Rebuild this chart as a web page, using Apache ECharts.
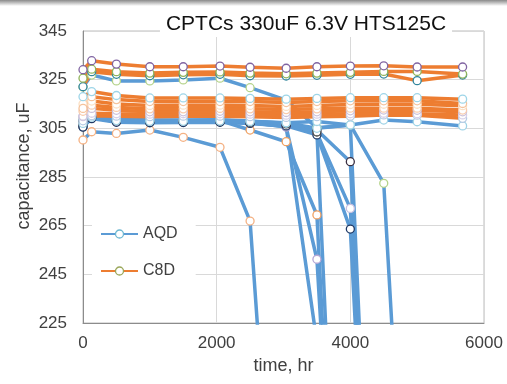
<!DOCTYPE html>
<html><head><meta charset="utf-8">
<script src="https://cdn.jsdelivr.net/npm/echarts@6/dist/echarts.min.js"></script>
<style>html,body{margin:0;padding:0;background:#fff;}#c{width:507px;height:384px;}</style>
</head><body><div id="c"></div>
<script>
// time points (hr)
const times = [0, 130, 500, 1000, 1500, 2050, 2500, 3040, 3500, 4000, 4500, 5000, 5680];
const xTicks = [0, 2000, 4000, 6000];
const yTicks = [225, 245, 265, 285, 305, 325, 345];

// AQD group (blue)
const aqd1 = [322, 326.9, 324.5, 324.5, 324.9, 325.6, 321.7, 316.6, 305.2, 306.4, 282.4, 42];
const aqd2 = [307, 309.6, 308.2, 307.9, 307.9, 308, 307.8, 307.3, 307.8, 306.4, 308.4, 307.7, 306];
const aqd3 = [300.2, 303.6, 302.9, 304.3, 301.3, 297.2, 266.9, 57];
const aqd4 = [309.5, 310.8, 308.5, 308, 308, 308.2, 304.3, 299.5, 269.4, 0];
const aqd5 = [305.7, 309.5, 307.7, 307.5, 307.5, 307.7, 307.2, 305.7, 217];
const aqd6 = [308.1, 310.5, 308, 307.8, 307.7, 307.9, 307.5, 305.5, 251.2, 20];
const aqd7 = [306.5, 309.8, 308, 307.7, 307.7, 307.7, 307.2, 306.5, 304.3, 291.3, 0];
const aqd8 = [310, 311.2, 309, 308.5, 308.4, 308.5, 308, 307, 303, 272.1, 0];
const aqd9 = [305.5, 309, 307.5, 307.3, 307.4, 307.5, 307, 306, 302.3, 263.6, 0];
const aqd10 = [308, 310, 308.3, 308, 308, 308, 307.5, 306.8, 303.5, 0];
const aqd11 = [309, 310.3, 308.6, 308.2, 308.2, 308.3, 307.8, 307.2, 305, 306.4, 0];

// C8D group (orange)
const c8d1 = [329.1, 332.8, 331.4, 330.3, 330.3, 330.6, 330.1, 329.7, 330.3, 330.6, 330.7, 330.2, 330.2];
const c8d2 = [325.6, 329.3, 328.3, 327.7, 328, 328.2, 327.7, 327.4, 327.7, 328, 328.4, 328.4, 327.3];
const c8d3 = [322.1, 328.3, 327.2, 326.6, 327, 327.2, 326.6, 326.5, 326.8, 327.2, 327.3, 324.6, 326.9];
const c8d4 = [318, 320.1, 318.5, 317.5, 317.5, 317.5, 317.3, 317, 317.3, 317.6, 317.6, 317.6, 317];
const c8d5 = [313.2, 318, 316.8, 316, 316, 316, 316, 315.6, 316, 316.3, 316.3, 316.3, 315.2];
const c8d6 = [315, 316.2, 315, 314.4, 314.5, 314.5, 314.4, 314, 314.4, 314.8, 314.9, 314.9, 314.3];
const c8d7 = [312, 314.5, 313.6, 313, 313, 313.2, 313, 312.7, 313, 313.3, 313.3, 313.3, 312.5];
const c8d8 = [310, 313.2, 312.4, 311.8, 311.8, 312, 311.8, 311.5, 311.8, 312.2, 312.5, 312.4, 311.8];
const c8d9 = [309.8, 311.2, 311, 310.8, 311, 311, 310.8, 310.4, 310.8, 311, 311.2, 311, 310.5];
const c8d10 = [308.1, 310.2, 310, 309.8, 310, 310, 309.8, 309.5, 309.8, 310, 310.5, 310.4, 309.1];

const BLUE = '#5B9BD5', ORANGE = '#ED7D31';
const FONT = 'Liberation Sans, Arial, sans-serif';

const aqdSets = [
  [aqd3, '#f4b183'], [aqd1, '#b5d38a'], [aqd4, '#f0a060'], [aqd5, '#2e3b55'],
  [aqd6, '#b4a7d6'], [aqd7, '#3a2e40'], [aqd8, '#c9c0e0'], [aqd9, '#1f3864'],
  [aqd10, '#404040'], [aqd11, '#9fd3e6'], [aqd2, '#9fd3e6']
];
const c8dSets = [
  [c8d10, '#b8cce4'], [c8d9, '#d8d0e8'], [c8d8, '#ccc1da'], [c8d7, '#f8cbad'],
  [c8d6, '#fbe0c4'], [c8d5, '#f5c39c'], [c8d4, '#9dd5e8'],
  [c8d3, '#31859c'], [c8d2, '#8fb35a'], [c8d1, '#8064a2']
];

function mk(name, color, mcolor, vals) {
  return {
    type: 'line', name: name, clip: true, showAllSymbol: true,
    symbol: 'circle', symbolSize: 8,
    data: vals.map((v, i) => [times[i], v]),
    lineStyle: { color: color, width: 3.5 },
    itemStyle: { color: '#fff', borderColor: mcolor, borderWidth: 1.3 },
    emphasis: { disabled: true }, animation: false
  };
}
const series = [];
aqdSets.forEach(s => series.push(mk('AQD', BLUE, s[1], s[0])));
c8dSets.forEach(s => series.push(mk('C8D', ORANGE, s[1], s[0])));

const chart = echarts.init(document.getElementById('c'), null, { renderer: 'canvas' });
chart.setOption({
  animation: false,
  backgroundColor: '#fff',
  title: {
    text: 'CPTCs 330uF 6.3V HTS125C', left: 300, top: 12, textAlign: 'center',
    backgroundColor: '#fff', padding: [2, 6],
    textStyle: { fontFamily: FONT, fontSize: 21, fontWeight: 'normal', color: '#111' }
  },
  grid: { left: 83, right: 23, top: 31, bottom: 61, show: true, borderColor: '#bdbdbd', borderWidth: 1 },
  legend: {
    left: 92, top: 216, orient: 'vertical', itemWidth: 37, itemHeight: 10, itemGap: 21,
    padding: [10, 18, 10, 8], backgroundColor: '#fff',
    textStyle: { fontFamily: FONT, fontSize: 16, color: '#404040' },
    data: [
      { name: 'AQD', itemStyle: { color: '#fff', borderColor: '#6fb8d2', borderWidth: 1.3 } },
      { name: 'C8D', itemStyle: { color: '#fff', borderColor: '#9aa75a', borderWidth: 1.3 } }
    ]
  },
  xAxis: {
    type: 'value', min: xTicks[0], max: xTicks[xTicks.length - 1], interval: 2000,
    name: 'time, hr', nameLocation: 'middle', nameGap: 27,
    nameTextStyle: { fontFamily: FONT, fontSize: 18, color: '#404040' },
    axisLine: { lineStyle: { color: '#8c8c8c', width: 1 } },
    axisTick: { show: false },
    axisLabel: { fontFamily: FONT, fontSize: 17, color: '#404040', margin: 12,
      formatter: v => String(v) },
    splitLine: { show: true, lineStyle: { color: '#d9d9d9', width: 1 } }
  },
  yAxis: {
    type: 'value', min: yTicks[0], max: yTicks[yTicks.length - 1], interval: 20,
    axisLine: { show: true, lineStyle: { color: '#8c8c8c', width: 1 } },
    axisTick: { show: false },
    axisLabel: { fontFamily: FONT, fontSize: 17, color: '#404040', margin: 16,
      formatter: v => String(v) },
    splitLine: { show: true, lineStyle: { color: '#d9d9d9', width: 1 } }
  },
  graphic: [
    { type: 'rect', left: 0, top: 0, shape: { width: 507, height: 6 }, z: 100,
      style: { fill: new echarts.graphic.LinearGradient(0, 0, 0, 1, [
        { offset: 0, color: '#8a8a8a' }, { offset: 1, color: '#ffffff' }]) } },
    { type: 'text', x: 24, y: 166, rotation: Math.PI / 2, z: 100,
      style: { text: 'capacitance, uF', fontFamily: FONT, fontSize: 18, fill: '#404040',
        align: 'center', verticalAlign: 'middle' } }
  ],
  series: series
});
</script>
</body></html>
